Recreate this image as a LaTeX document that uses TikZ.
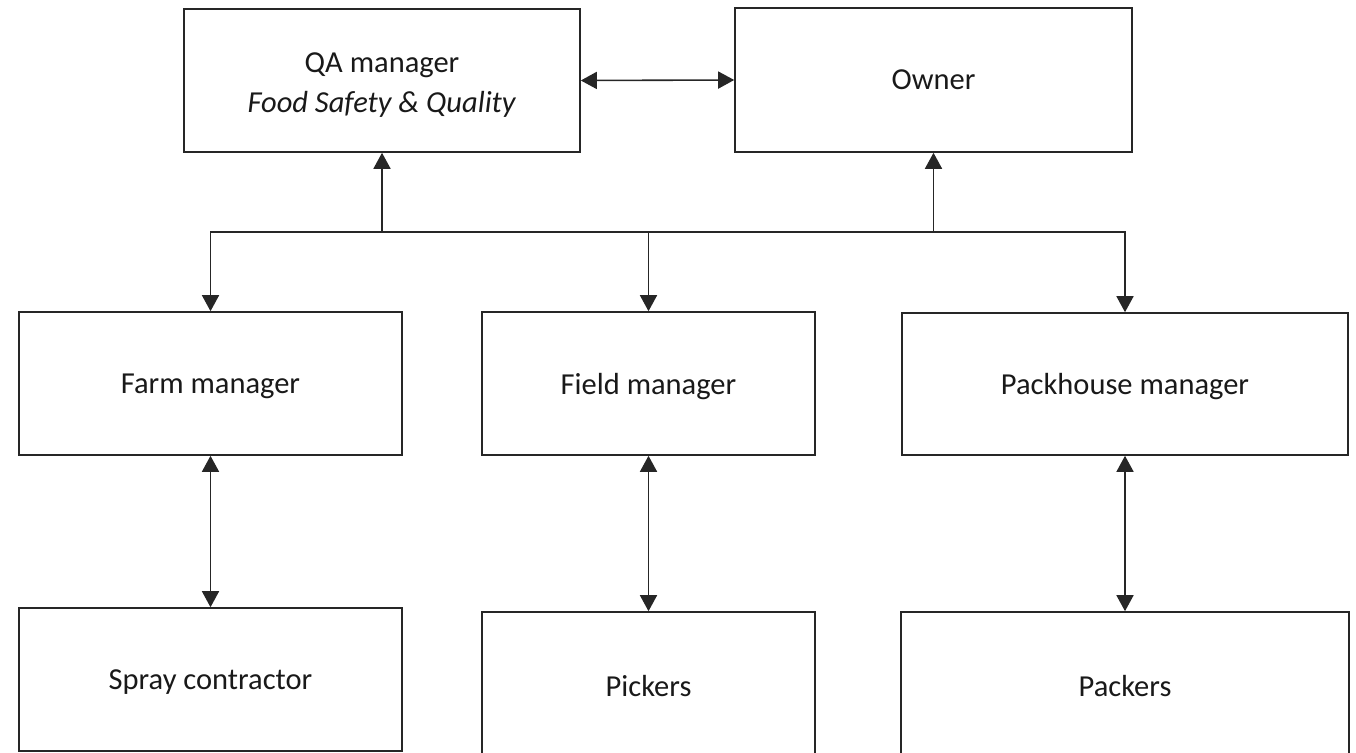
\documentclass[tikz,border=0pt]{standalone}
\usepackage{fontspec}
\setmainfont{Carlito}
\usetikzlibrary{arrows.meta}
\begin{document}
\begin{tikzpicture}[x=1pt,y=-1pt,
  box/.style={draw=black!85,line width=1.6pt,rectangle,inner sep=0pt,
    font=\fontsize{30.5}{40}\selectfont,align=center,text=black!90,text depth=0pt},
  link/.style={draw=black!85,line width=1.6pt},
  tip/.style={-{Triangle[length=16pt,width=17pt]}},
  bothtips/.style={{Triangle[length=16pt,width=17pt]}-{Triangle[length=16pt,width=17pt]}}]
\useasboundingbox (0,0) rectangle (1356,752);
\clip (0,0) rectangle (1356,752);
% top row
\node[box,minimum width=396pt,minimum height=143pt] (qa) at (382,80.5)
  {\raisebox{26pt}{\begin{tabular}{@{}c@{}}QA manager\\\textit{Food Safety \& Quality}\end{tabular}}};
\node[box,minimum width=397pt,minimum height=144pt] (owner) at (933.5,80) {Owner};
% managers
\node[box,minimum width=383pt,minimum height=143pt] (farm) at (210.5,383.5) {Farm manager};
\node[box,minimum width=333pt,minimum height=143pt] (field) at (648.5,383.5) {Field manager};
\node[box,minimum width=446pt,minimum height=142pt] (pack) at (1125,384) {Packhouse manager};
% workers
\node[box,minimum width=383pt,minimum height=143pt] (spray) at (210.5,679.5) {Spray contractor};
\node[box,minimum width=333pt,minimum height=148pt] (pickers) at (648.5,686) {Pickers};
\node[box,minimum width=448pt,minimum height=148pt] (packers) at (1125,686) {Packers};
% connectors
\coordinate (j) at (382,232);
\draw[link,bothtips] (qa.east) -- (owner.west);
\draw[link,tip] (j) -- (qa.south);
\draw[link,tip] (owner.south |- j) -- (owner.south);
\draw[link,tip] (j) -| (farm.north);
\draw[link,tip] (j) -| (pack.north);
\draw[link,tip] (field.north |- j) -- (field.north);
\draw[link,bothtips] (farm.south) -- (spray.north);
\draw[link,bothtips] (field.south) -- (pickers.north);
\draw[link,bothtips] (pack.south) -- (packers.north);
\end{tikzpicture}
\end{document}
